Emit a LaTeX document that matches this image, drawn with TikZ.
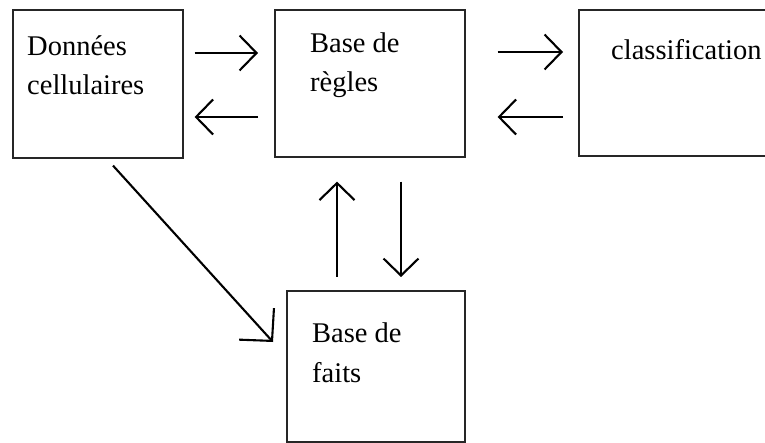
\documentclass[tikz,border=0pt]{standalone}
\usepackage{fontspec}
\setmainfont{Liberation Serif}
\usetikzlibrary{arrows.meta,calc}
\begin{document}
\begin{tikzpicture}[x=1pt,y=-1pt,
  box/.style={draw=black!85,line width=1.6pt,rectangle,inner sep=0pt,anchor=north west},
  lbl/.style={anchor=base west,inner sep=0pt,align=left,font=\fontsize{28.5}{39.5}\selectfont},
  arr/.style={line width=2.1pt,-{Straight Barb[length=17pt,width=35pt,line width=2.1pt]}},
  bigarr/.style={line width=2.1pt,-{Straight Barb[length=23pt,width=47pt,line width=2.1pt]}}]
\clip (0,0) rectangle (765,443);
\fill[white] (0,0) rectangle (765,443);
% boxes
\node[box,minimum width=170pt,minimum height=148pt] (d) at (12,9) {};
\node[box,minimum width=190pt,minimum height=147pt] (r) at (274,9) {};
\node[box,minimum width=220pt,minimum height=146pt] (c) at (578,9) {};
\node[box,minimum width=178pt,minimum height=151pt] (f) at (286,290) {};
% labels (anchor = baseline of the last line)
\node[lbl] (dt) at (27,95) {Données\\cellulaires};
\node[lbl] (rt) at (310,92) {Base de\\règles};
\node[lbl] (ct) at (611,60) {classification};
\node[lbl] (ft) at (312,382) {Base de\\faits};
% connectors
\draw[arr] ($(d.north east)+(11,44)$) -- ($(r.north west)+(-16,44)$);
\draw[arr] ($(r.north west)+(-16,108)$) -- ($(d.north east)+(11,108)$);
\draw[arr] ($(r.north east)+(32,43)$) -- ($(c.north west)+(-15,43)$);
\draw[arr] ($(c.north west)+(-15,108)$) -- ($(r.north east)+(32,108)$);
\draw[arr] ($(f.north west)+(51,-13)$) -- ($(r.south west)+(63,24)$);
\draw[arr] ($(r.south west)+(127,24)$) -- ($(f.north west)+(115,-13)$);
\draw[bigarr] ($(d.south west)+(101,7)$) -- ($(f.north west)+(-13,52)$);
\end{tikzpicture}
\end{document}
